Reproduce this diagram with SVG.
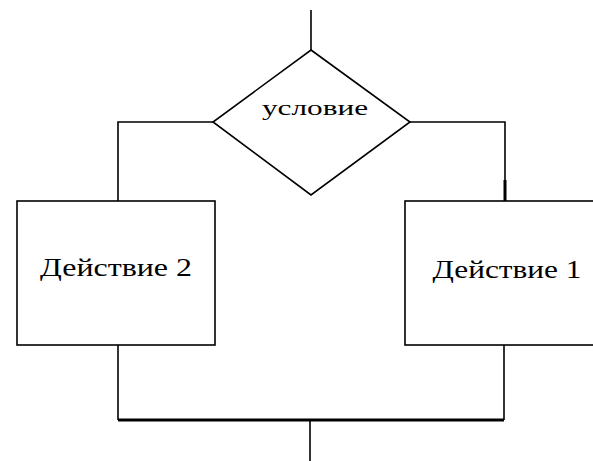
<svg xmlns="http://www.w3.org/2000/svg" width="593" height="461" viewBox="0 0 593 461">
<style>
.s{fill:#fff;stroke:#000;stroke-width:1.6}
.c{fill:none;stroke:#000;stroke-width:1.6}
.t{font-family:"Liberation Serif","Times New Roman",serif;fill:#000;text-anchor:middle}
</style>
<rect width="593" height="461" fill="#fff"/>
<g id="connectors">
<line class="c" x1="311" y1="10" x2="311" y2="50"/>
<polyline class="c" points="213,122 118,122 118,201"/>
<polyline class="c" points="410,122 505,122 505,201"/>
<line x1="505" y1="180" x2="505" y2="201" stroke="#000" stroke-width="3"/>
<polyline class="c" points="118,345 118,420"/>
<polyline class="c" points="504,345 504,420"/>
<line x1="118" y1="420" x2="504" y2="420" stroke="#000" stroke-width="3"/>
<line class="c" x1="310" y1="420" x2="310" y2="461"/>
</g>
<g id="condition">
<polygon class="s" points="311,50 410,122 311,195 213,122"/>
<text class="t" x="315" y="115" font-size="22" textLength="106" lengthAdjust="spacingAndGlyphs">условие</text>
</g>
<g id="action2">
<rect class="s" x="17" y="201" width="198" height="144"/>
<text class="t" x="116" y="276" font-size="26" textLength="152" lengthAdjust="spacingAndGlyphs">Действие 2</text>
</g>
<g id="action1">
<rect class="s" x="405" y="201" width="200" height="144"/>
<text class="t" x="507" y="278" font-size="26" textLength="149" lengthAdjust="spacingAndGlyphs">Действие 1</text>
</g>
</svg>
